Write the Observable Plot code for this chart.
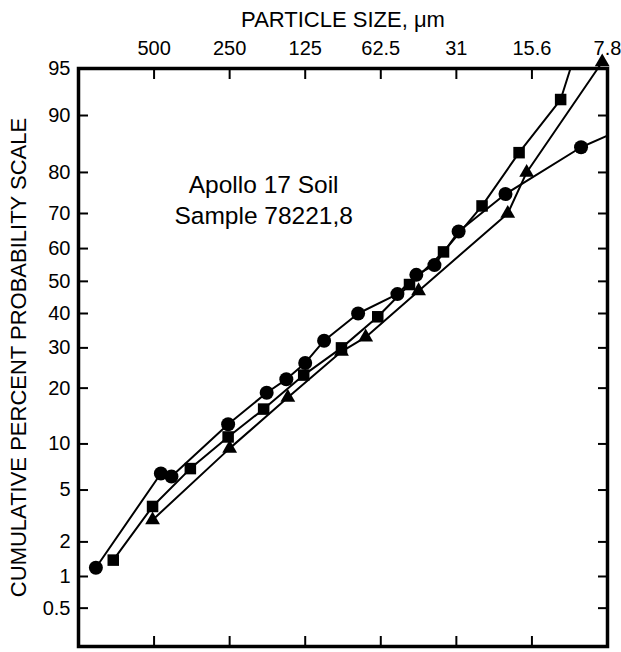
<!DOCTYPE html>
<html>
<head>
<meta charset="utf-8">
<script src="https://cdn.jsdelivr.net/npm/d3@7"></script>
<script src="https://cdn.jsdelivr.net/npm/@observablehq/plot@0.6"></script>
<style>
  html, body { margin: 0; padding: 0; background: #fff; }
  #chart svg { display: block; }
</style>
</head>
<body>
<div id="chart"></div>
<script>
// ---- Data ----
// x is in phi units: phi = -log2(size in mm); 500 µm = 1 ... 7.8 µm = 7
const xTickPhi = [1, 2, 3, 4, 5, 6, 7];
const xTickLabels = ["500", "250", "125", "62.5", "31", "15.6", "7.8"];
const yTickPct = [0.5, 1, 2, 5, 10, 20, 30, 40, 50, 60, 70, 80, 90, 95];
const xDomainPhi = [0, 7];
const yDomainPct = [0.2, 95];

const circlePhi = [0.23, 1.09, 1.23, 1.98, 2.49, 2.75, 3.00, 3.25, 3.70, 4.22, 4.47, 4.71, 5.03, 5.65, 6.65];
const circlePct = [1.2, 6.5, 6.2, 13, 19, 22, 26, 32, 40, 46, 52, 55, 65, 75, 85];
const circleTailPhi = [7.0];
const circleTailPct = [87];

const squarePhi = [0.46, 0.98, 1.48, 1.98, 2.45, 2.98, 3.48, 3.96, 4.38, 4.83, 5.34, 5.83, 6.38];
const squarePct = [1.4, 3.8, 7.0, 11, 15.7, 23, 30, 39, 49, 59, 72, 84, 92];
const squareTailPhi = [6.51];
const squareTailPct = [95];

const trianglePhi = [0.98, 2.00, 2.77, 3.48, 3.80, 4.50, 5.68, 5.93, 6.93];
const trianglePct = [3.0, 9.4, 18, 29, 33, 47, 70, 80, 95.5];

const xTitle = "PARTICLE SIZE, \u03bcm";
const yTitle = "CUMULATIVE PERCENT PROBABILITY SCALE";
const noteLines = ["Apollo 17 Soil", "Sample 78221,8"];
const notePhi = [2.45];
const notePct = [74];

// ---- inverse normal CDF (probability scale) ----
function probit(p) {
  const a = [-3.969683028665376e+01, 2.209460984245205e+02, -2.759285104469687e+02, 1.383577518672690e+02, -3.066479806614716e+01, 2.506628277459239e+00];
  const b = [-5.447609879822406e+01, 1.615858368580409e+02, -1.556989798598866e+02, 6.680131188771972e+01, -1.328068155288572e+01];
  const c = [-7.784894002430293e-03, -3.223964580411365e-01, -2.400758277161838e+00, -2.549732539343734e+00, 4.374664141464968e+00, 2.938163982698783e+00];
  const d = [7.784695709041462e-03, 3.224671290700398e-01, 2.445134137142996e+00, 3.754408661907416e+00];
  const pl = 0.02425, ph = 1 - pl;
  if (p < pl) {
    const q = Math.sqrt(-2 * Math.log(p));
    return (((((c[0]*q+c[1])*q+c[2])*q+c[3])*q+c[4])*q+c[5]) / ((((d[0]*q+d[1])*q+d[2])*q+d[3])*q+1);
  }
  if (p <= ph) {
    const q = p - 0.5, r = q * q;
    return (((((a[0]*r+a[1])*r+a[2])*r+a[3])*r+a[4])*r+a[5])*q / (((((b[0]*r+b[1])*r+b[2])*r+b[3])*r+b[4])*r+1);
  }
  const q = Math.sqrt(-2 * Math.log(1 - p));
  return -(((((c[0]*q+c[1])*q+c[2])*q+c[3])*q+c[4])*q+c[5]) / ((((d[0]*q+d[1])*q+d[2])*q+d[3])*q+1);
}
// the printed probability paper is slightly stretched above the median
const upperStretch = 1.02;
const zt = pct => { const v = probit(pct / 100); return v > 0 ? v * upperStretch : v; };

const toRows = (phi, pct) => phi.map((p, i) => ({phi: p, z: zt(pct[i])}));
const circles = toRows(circlePhi, circlePct);
const squares = toRows(squarePhi, squarePct);
const triangles = toRows(trianglePhi, trianglePct);
const circleLine = circles.concat(toRows(circleTailPhi, circleTailPct));
const squareLine = squares.concat(toRows(squareTailPhi, squareTailPct));
const triangleLine = triangles;

const yTickZ = yTickPct.map(zt);
const fmtY = d => String(yTickPct[yTickZ.indexOf(d)]);
const fmtX = d => xTickLabels[xTickPhi.indexOf(d)];

const font = "'Liberation Sans', Arial, Helvetica, sans-serif";

const chart = Plot.plot({
  width: 621,
  height: 652,
  marginLeft: 78,
  marginRight: 14,
  marginTop: 68,
  marginBottom: 6,
  style: {fontFamily: font, background: "#fff", color: "#000"},
  x: {domain: xDomainPhi, axis: null},
  y: {domain: yDomainPct.map(zt), axis: null},
  marks: [
    // axes (inward ticks)
    Plot.axisX(xTickPhi, {anchor: "top", tickSize: -10, tickPadding: 24, tickFormat: fmtX, label: null, fontSize: 20, strokeWidth: 2}),
    Plot.axisX(xTickPhi, {anchor: "bottom", tickSize: -10, tickFormat: () => "", label: null, strokeWidth: 2}),
    Plot.axisY(yTickZ, {anchor: "left", tickSize: -10, tickPadding: 18, tickFormat: fmtY, label: null, fontSize: 20, strokeWidth: 2}),
    Plot.axisY(yTickZ, {anchor: "right", tickSize: -10, tickFormat: () => "", label: null, strokeWidth: 2}),
    Plot.frame({stroke: "#000", strokeWidth: 3.5}),
    // titles
    Plot.text([xTitle], {text: d => d, frameAnchor: "top", textAnchor: "middle", dx: 0, dy: -49, fontSize: 22, lineAnchor: "middle"}),
    Plot.text([yTitle], {text: d => d, frameAnchor: "left", textAnchor: "middle", dx: -60, rotate: -90, fontSize: 22, lineAnchor: "middle"}),
    Plot.text([noteLines.join("\n")], {x: notePhi, y: notePct.map(zt), text: d => d, textAnchor: "middle", fontSize: 24.5, lineHeight: 1.27, lineAnchor: "middle"}),
    // lines
    Plot.line(circleLine, {x: "phi", y: "z", stroke: "#000", strokeWidth: 2}),
    Plot.line(squareLine, {x: "phi", y: "z", stroke: "#000", strokeWidth: 2}),
    Plot.line(triangleLine, {x: "phi", y: "z", stroke: "#000", strokeWidth: 2}),
    // markers
    Plot.dot(circles, {x: "phi", y: "z", r: 7, symbol: "circle", fill: "#000"}),
    Plot.dot(squares, {x: "phi", y: "z", r: 6.5, symbol: "square", fill: "#000"}),
    Plot.dot(triangles, {x: "phi", y: "z", r: 5.5, symbol: "triangle", fill: "#000"})
  ]
});
document.getElementById("chart").appendChild(chart);
</script>
</body>
</html>
